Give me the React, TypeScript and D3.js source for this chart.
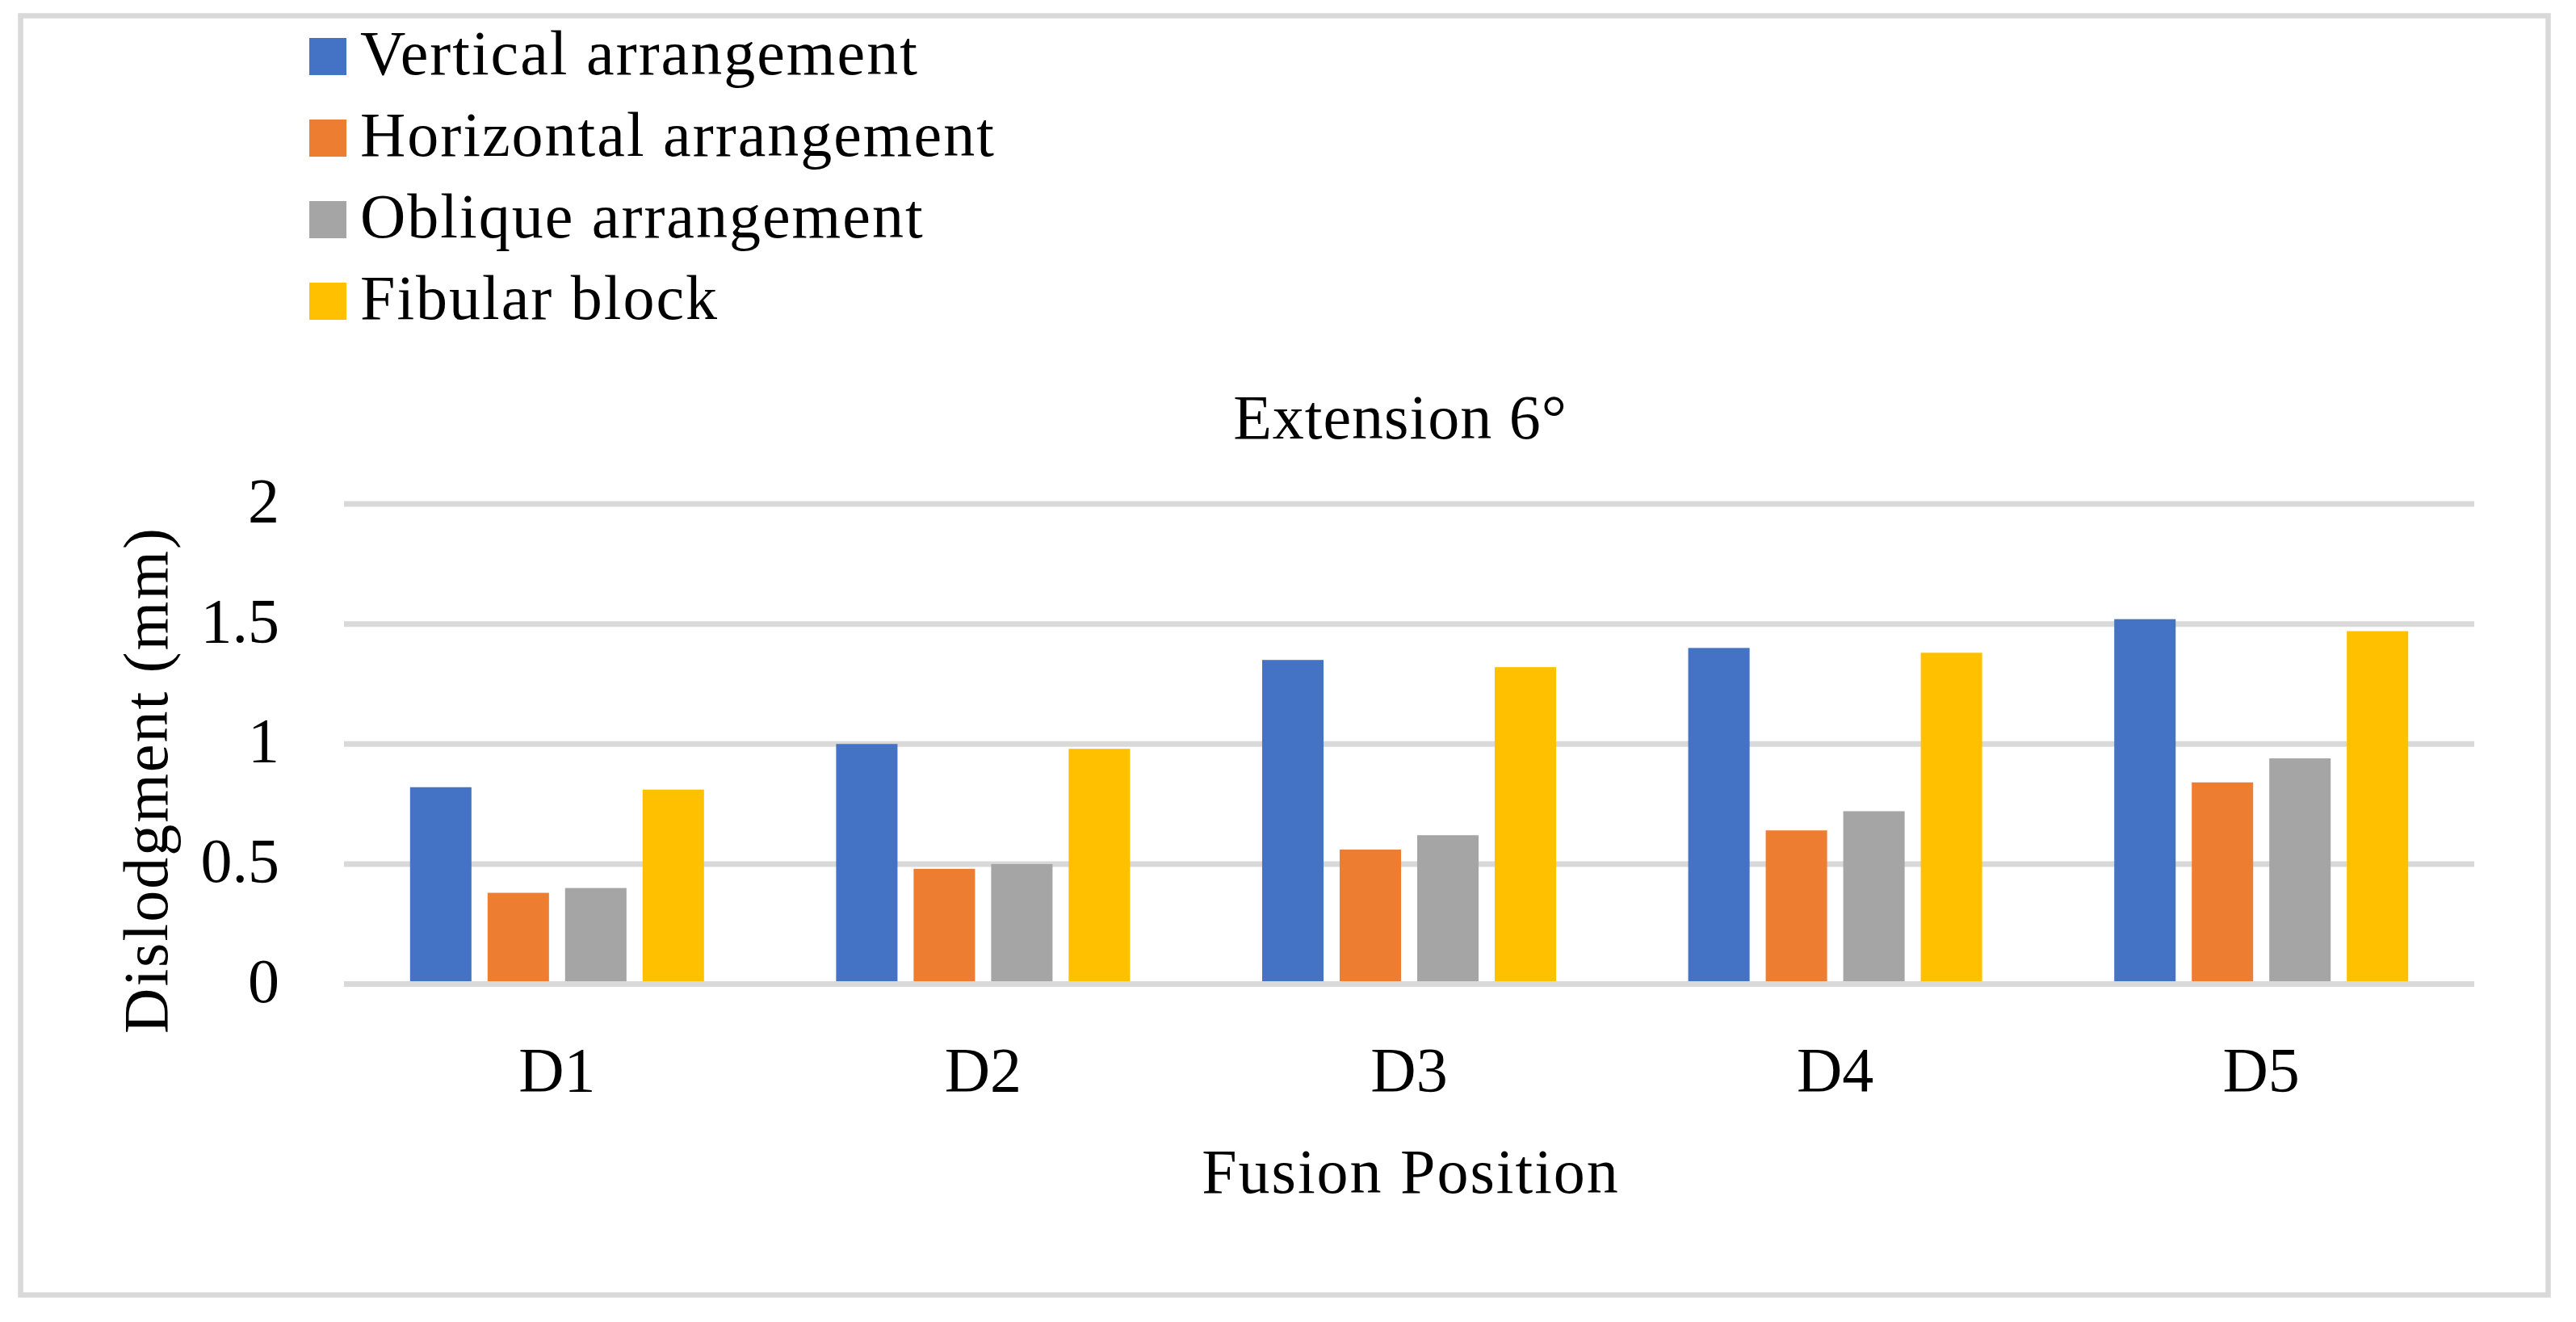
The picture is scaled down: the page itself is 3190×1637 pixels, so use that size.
import React from "react";
import * as d3 from "d3";

const categories = ["D1", "D2", "D3", "D4", "D5"];
const seriesNames = ["Vertical arrangement", "Horizontal arrangement", "Oblique arrangement", "Fibular block"];
const seriesColors = ["#4472C4", "#ED7D31", "#A5A5A5", "#FFC000"];
const vertical = [0.82, 1.0, 1.35, 1.4, 1.52];
const horizontal = [0.38, 0.48, 0.56, 0.64, 0.84];
const oblique = [0.4, 0.5, 0.62, 0.72, 0.94];
const fibular = [0.81, 0.98, 1.32, 1.38, 1.47];
const yTicks = [0, 0.5, 1, 1.5, 2];
const yTickLabels = ["0", "0.5", "1", "1.5", "2"];
const chartTitle = "Extension 6°";
const xTitle = "Fusion Position";
const yTitle = "Dislodgment (mm)";

const seriesValues = [vertical, horizontal, oblique, fibular];

const W = 3190;
const H = 1637;
const FONT = "'Liberation Serif', 'Times New Roman', serif";
const FS = 78;
const LS = 2;

export default function App() {
  const x0 = d3.scaleBand<string>().domain(categories).range([426, 3064]).paddingInner(0).paddingOuter(0);
  const groupW = 364;
  const y = d3.scaleLinear().domain([0, 2]).range([1218.5, 624]);

  return (
    <div style={{ position: "absolute", left: 0, top: 0 }}>
      <svg width={W} height={H} viewBox={`0 0 ${W} ${H}`} style={{ display: "block", background: "#fff" }}>
        <rect x={0} y={0} width={W} height={H} fill="#fff" />
        <rect x={25.5} y={19.5} width={3130} height={1584} fill="none" stroke="#D9D9D9" strokeWidth={6.5} />

        {/* legend */}
        {seriesNames.map((name, i) => (
          <g key={name}>
            <rect x={383} y={47 + i * 101} width={46} height={46} fill={seriesColors[i]} />
            <text x={446} y={92 + i * 101} fontFamily={FONT} fontSize={FS} letterSpacing={LS} fill="#000">
              {name}
            </text>
          </g>
        ))}

        {/* title */}
        <text x={1734} y={543} textAnchor="middle" fontFamily={FONT} fontSize={FS} letterSpacing={1} fill="#000">
          {chartTitle}
        </text>

        {/* gridlines */}
        {yTicks.map((t) => (
          <line key={t} x1={426} x2={3064} y1={y(t)} y2={y(t)} stroke="#D9D9D9" strokeWidth={7} />
        ))}

        {/* y tick labels */}
        {yTicks.map((t, i) => (
          <text key={t} x={346} y={y(t) + 22} textAnchor="end" fontFamily={FONT} fontSize={FS} fill="#000">
            {yTickLabels[i]}
          </text>
        ))}

        {/* bars */}
        {categories.map((c, ci) => {
          const cx = (x0(c) as number) + x0.bandwidth() / 2;
          const x1 = d3
            .scaleBand<number>()
            .domain(d3.range(seriesNames.length))
            .range([cx - groupW / 2, cx + groupW / 2])
            .paddingInner(0.208)
            .paddingOuter(0);
          return (
            <g key={c}>
              {seriesValues.map((vals, si) => (
                <rect
                  key={si}
                  x={x1(si) as number}
                  y={y(vals[ci])}
                  width={x1.bandwidth()}
                  height={y(0) - 3.5 - y(vals[ci])}
                  fill={seriesColors[si]}
                />
              ))}
            </g>
          );
        })}

        {/* zero line over bars */}
        <line x1={426} x2={3064} y1={y(0)} y2={y(0)} stroke="#D9D9D9" strokeWidth={7} />

        {/* x tick labels */}
        {categories.map((c) => (
          <text
            key={c}
            x={(x0(c) as number) + x0.bandwidth() / 2}
            y={1351}
            textAnchor="middle"
            fontFamily={FONT}
            fontSize={FS}
            fill="#000"
          >
            {c}
          </text>
        ))}

        {/* axis titles */}
        <text x={1747} y={1477} textAnchor="middle" fontFamily={FONT} fontSize={FS} letterSpacing={LS} fill="#000">
          {xTitle}
        </text>
        <text
          transform={`translate(207,966) rotate(-90)`}
          textAnchor="middle"
          fontFamily={FONT}
          fontSize={FS}
          letterSpacing={LS}
          fill="#000"
        >
          {yTitle}
        </text>
      </svg>
    </div>
  );
}
